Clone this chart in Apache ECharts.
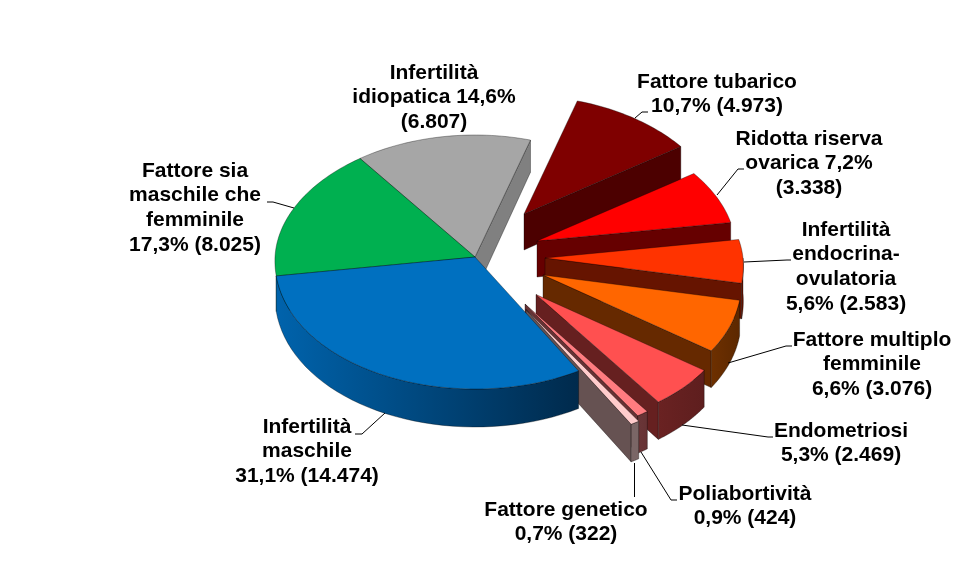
<!DOCTYPE html>
<html><head><meta charset="utf-8">
<style>html,body{margin:0;padding:0;background:#fff}#c{width:965px;height:587px}</style>
<script src="https://cdn.jsdelivr.net/npm/echarts@6/dist/echarts.min.js"></script>
</head><body><div id="c"></div>
<script>
// ---- data (clockwise, starting from the top right) ----
const categories = ['Fattore tubarico','Ridotta riserva ovarica','Infertilità endocrina-ovulatoria','Fattore multiplo femminile','Endometriosi','Poliabortività','Fattore genetico','Infertilità maschile','Fattore sia maschile che femminile','Infertilità idiopatica'];
const values = [4973,3338,2583,3076,2469,424,322,14474,8025,6807];
const labelLines = [
  ['Fattore tubarico','10,7% (4.973)'],
  ['Ridotta riserva','ovarica 7,2%','(3.338)'],
  ['Infertilità','endocrina-','ovulatoria','5,6% (2.583)'],
  ['Fattore multiplo','femminile','6,6% (3.076)'],
  ['Endometriosi','5,3% (2.469)'],
  ['Poliabortività','0,9% (424)'],
  ['Fattore genetico','0,7% (322)'],
  ['Infertilità','maschile','31,1% (14.474)'],
  ['Fattore sia','maschile che','femminile','17,3% (8.025)'],
  ['Infertilità','idiopatica 14,6%','(6.807)']
];
// ---- styles and layout ----
const topColors  = ['#7F0000','#FF0000','#FF3300','#FF6600','#FF5050','#FF7C80','#FFCCCC','#0070C0','#00B050','#A6A6A6'];
const cutColors  = ['#4C0000','#660000','#661400','#662900','#662020','#663234','#665252','#003D70','#005A28','#808080'];
const wallStops  = [['#4C0000','#4C0000'],['#660000','#660000'],['#661400','#661400'],['#6E3000','#5C2800'],['#6A2222','#5E1E1E'],['#6A3638','#663234'],['#7A6666','#7A6666'],['#0063AC','#002A4C'],null,['#A0A0A0','#808080']];
const centers = [[524,214],[537,241],[545,258],[543,275],[536,294.5],[525,304],[526,309.5],[475,257],[475,257],[475,257]];
const MAIN = {rx:200, back:122, front:132, persp:0.03}, EXPL = {rx:198, back:118, front:133, persp:0.06};
const shapes = [EXPL,EXPL,EXPL,EXPL,EXPL,EXPL,EXPL,MAIN,MAIN,MAIN];
const drawOrder = [9,8,0,1,2,3,4,5,6,7];
const labelAnchors = [[717,82],[809,139],[846,230],[872,340],[841,431],[745,494],[566,510],[307,427],[195,171],[434,73]];
const lineHeight = 24.6;
const leaders = [
  [[635,118],[642,112],[648,112]],
  [[717,195],[738,169],[744,169]],
  [[744,262],[787,260],[791,260]],
  [[728,363],[786,346],[792,346]],
  [[682,425],[768,437],[773,437]],
  [[641,452],[671,500],[677,500]],
  [[634.5,463],[634.5,497]],
  [[385,413],[362,434],[355,434]],
  [[294,208],[273,202],[267,202]]
];
const START_DEG = 16.6;
const FONT = 'bold 21px "Liberation Sans", Arial, sans-serif';

const total = values.reduce((a,b)=>a+b,0);
const rad = d => d*Math.PI/180;
function project(i, deg, drop){
  const c = centers[i], g = shapes[i];
  const s = Math.sin(rad(deg)), k = Math.cos(rad(deg));
  const d = drop ? 35 - 3*k : 0;
  return [c[0] + g.rx*s*(1-g.persp*k), c[1] - k*(k>0?g.back:g.front) + d];
}
function sliceAngles(i){
  let a = START_DEG;
  for(let j=0;j<i;j++) a += values[j]/total*360;
  return [a, a + values[i]/total*360];
}
function poly(points, fill, z){
  return {type:'polygon', shape:{points}, z2:z,
    style:{fill, stroke:'rgba(0,0,0,0.55)', lineWidth:0.6, lineJoin:'round'}};
}
function renderSlice(params, api){
  const i = api.value(0);
  const [a0,a1] = sliceAngles(i);
  const c = centers[i];
  const ch = [];
  const tip = [c[0],c[1]], tipB = [c[0],c[1]+36];
  const cut = (deg)=> poly([tip, project(i,deg,false), project(i,deg,true), tipB], cutColors[i], 1);
  if(Math.sin(rad(a0))<0) ch.push(cut(a0));
  if(Math.sin(rad(a1))>0) ch.push(cut(a1));
  const w0 = Math.max(a0,90), w1 = Math.min(a1,270);
  if(w1>w0 && wallStops[i]){
    const up=[], dn=[];
    for(let t=0;t<=40;t++){
      const d = w0+(w1-w0)*t/40;
      up.push(project(i,d,false)); dn.unshift(project(i,d,true));
    }
    const stops = wallStops[i];
    // the wall darkens from left to right on screen
    const from = project(i,w1,false)[0] < project(i,w0,false)[0] ? stops[0] : stops[1];
    const to   = from === stops[0] ? stops[1] : stops[0];
    ch.push(poly(up.concat(dn), new echarts.graphic.LinearGradient(0,0,1,0,[{offset:0,color:from},{offset:1,color:to}]), 2));
  }
  const top=[tip];
  const n=Math.max(4,Math.ceil((a1-a0)/1.5));
  for(let t=0;t<=n;t++) top.push(project(i,a0+(a1-a0)*t/n,false));
  ch.push(poly(top, topColors[i], 3));
  return {type:'group', children:ch};
}
function renderLabels(params, api){
  const i = api.value(0);
  const at = labelAnchors[i];
  const ch = labelLines[i].map((line,n)=>({type:'text', style:{text:line, x:at[0], y:at[1]+n*lineHeight,
    align:'center', verticalAlign:'middle', font:FONT, fill:'#000'}}));
  return {type:'group', children:ch};
}
function renderLeader(params, api){
  const pts = leaders[api.value(0)];
  return {type:'polyline', shape:{points:pts}, style:{stroke:'#000', lineWidth:1, fill:'none'}};
}
const chart = echarts.init(document.getElementById('c'), null, {renderer:'canvas'});
chart.setOption({
  animation:false,
  backgroundColor:'#fff',
  series:[
    {type:'custom', name:'Slices', coordinateSystem:'none', silent:true, z:2, renderItem:renderSlice,
      data:drawOrder.map(i=>({name:categories[i], value:[i, values[i]]}))},
    {type:'custom', name:'Leaders', coordinateSystem:'none', silent:true, z:3, renderItem:renderLeader,
      data:leaders.map((_,i)=>[i])},
    {type:'custom', name:'Labels', coordinateSystem:'none', silent:true, z:4, renderItem:renderLabels,
      data:categories.map((n,i)=>({name:n, value:[i, values[i]]}))}
  ]
});
</script></body></html>
